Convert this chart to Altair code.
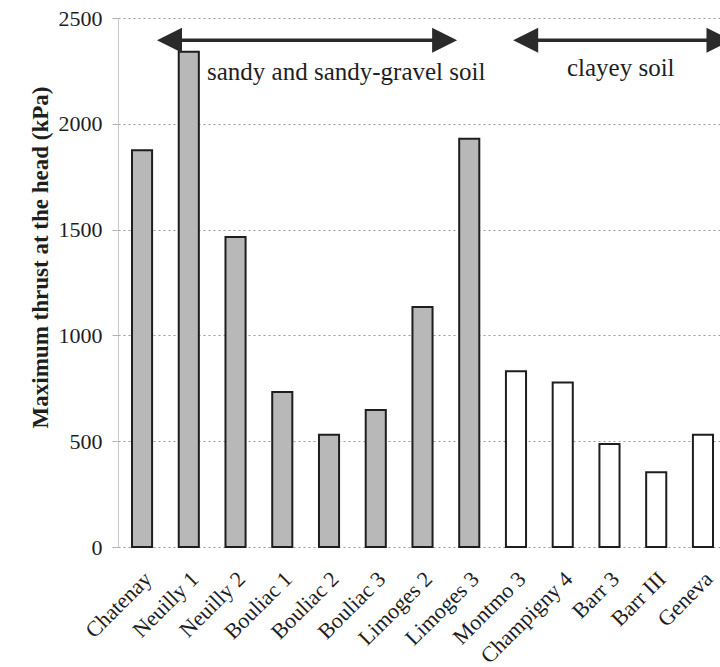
import altair as alt
import pandas as pd

# ---------------- data ----------------
categories = ["Chatenay", "Neuilly 1", "Neuilly 2", "Bouliac 1", "Bouliac 2",
              "Bouliac 3", "Limoges 2", "Limoges 3", "Montmo 3", "Champigny 4",
              "Barr 3", "Barr III", "Geneva"]
values = [1875, 2340, 1465, 733, 530, 648, 1134, 1929, 831, 777, 487, 353, 531]
soil = ["sandy", "sandy", "sandy", "sandy", "sandy", "sandy", "sandy", "sandy",
        "clayey", "clayey", "clayey", "clayey", "clayey"]
y_ticks = [0, 500, 1000, 1500, 2000, 2500]

# annotation arrows (x in category-index units, y in kPa)
arrow_labels = ["sandy and sandy-gravel soil", "clayey soil"]
arrow_start = [0.32, 7.94]
arrow_end = [6.74, 12.61]
arrow_level = [2395, 2395]
label_x = [1.39, 9.09]
label_level = [2209, 2228]

# ---------------- layout helpers ----------------
W, H = 602, 529
n = len(categories)
p_in, p_out, align = 0.57, 0.2245, 0.667
step = W / (n - p_in + 2 * p_out)
start = (W - step * (n - p_in)) * align
c0 = start + step * (1 - p_in) / 2
idx_domain = [(0 - c0) / step, (W - c0) / step]
head_half = 12.5 / step

SERIF = "Liberation Serif"
INK = "#1e1e1e"

df = pd.DataFrame({"site": categories, "thrust": values, "soil": soil})
ann = pd.DataFrame({
    "label": arrow_labels,
    "start": arrow_start,
    "end": arrow_end,
    "level": arrow_level,
    "lx": label_x,
    "ly": label_level,
})
ann["r0"] = ann["start"] + head_half
ann["r1"] = ann["end"] - head_half

yscale = alt.Scale(domain=[0, 2500], nice=False, zero=True)
qx = alt.Scale(domain=idx_domain, nice=False, zero=False)

bars = alt.Chart(df).mark_bar(stroke=INK, strokeWidth=2).encode(
    x=alt.X("site:N", sort=categories,
            scale=alt.Scale(paddingInner=p_in, paddingOuter=p_out, align=align, round=False),
            axis=alt.Axis(title=None, labelAngle=-45, labelAlign="right",
                          labelBaseline="middle", labelPadding=28, labelOffset=6,
                          ticks=False, domain=False, grid=False,
                          labelFont=SERIF, labelFontSize=22, labelColor=INK)),
    y=alt.Y("thrust:Q", scale=yscale,
            axis=alt.Axis(values=y_ticks, format="d", title="Maximum thrust at the head (kPa)",
                          titleFont=SERIF, titleFontSize=23, titleFontWeight="bold",
                          titleColor=INK, titleX=-78, titleY=239, titleAngle=270,
                          titleBaseline="middle", titleAlign="center",
                          labelFont=SERIF, labelFontSize=22, labelColor=INK,
                          labelPadding=10, tickSize=6, tickColor="#b0b0b0",
                          domainColor="#c8c8c8", grid=True, gridColor="#999999",
                          gridDash=[2, 3], gridWidth=1)),
    fill=alt.Fill("soil:N", scale=alt.Scale(domain=["sandy", "clayey"],
                                            range=["#b8b8b8", "#ffffff"]), legend=None),
)

rules = alt.Chart(ann).mark_rule(strokeWidth=3.5, color="#2a2a2a").encode(
    x=alt.X("r0:Q", scale=qx, axis=None), x2="r1:Q",
    y=alt.Y("level:Q", scale=yscale),
)
lheads = alt.Chart(ann).mark_point(shape="M1,-1L-1,0L1,1Z", filled=True, size=625,
                                   color="#2a2a2a", opacity=1).encode(
    x=alt.X("r0:Q", scale=qx, axis=None), y=alt.Y("level:Q", scale=yscale))
rheads = alt.Chart(ann).mark_point(shape="M-1,-1L1,0L-1,1Z", filled=True, size=625,
                                   color="#2a2a2a", opacity=1).encode(
    x=alt.X("r1:Q", scale=qx, axis=None), y=alt.Y("level:Q", scale=yscale))
texts = alt.Chart(ann).mark_text(align="left", baseline="alphabetic", font=SERIF,
                                 fontSize=25, color=INK).encode(
    x=alt.X("lx:Q", scale=qx, axis=None), y=alt.Y("ly:Q", scale=yscale), text="label:N")

chart = alt.layer(bars, rules, lheads, rheads, texts).resolve_scale(x="independent").properties(
    width=W, height=H,
    autosize=alt.AutoSizeParams(type="none"),
    padding={"left": 118, "top": 18, "right": 0, "bottom": 120},
    background="white",
).configure_view(stroke=None).configure_text(font=SERIF)

chart.save("out.html", embed_options={"renderer": "svg", "actions": False})
